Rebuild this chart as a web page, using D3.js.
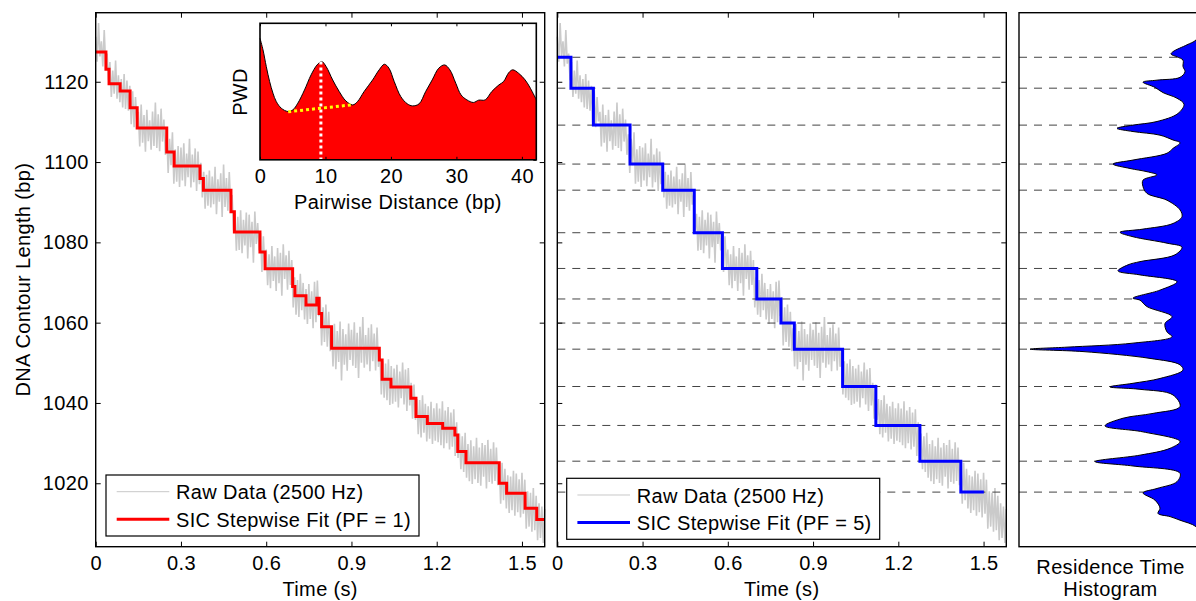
<!DOCTYPE html>
<html>
<head>
<meta charset="utf-8">
<script src="https://cdnjs.cloudflare.com/ajax/libs/d3/7.8.5/d3.min.js"></script>
<style>
body { margin: 0; background: #fff; }
svg { display: block; font-family: "Liberation Sans", Arial, sans-serif; }
svg text { letter-spacing: 0.35px; }
</style>
</head>
<body>
<svg width="1196" height="601"></svg>
<script>
// ---- data ----
// raw trace, one point every 5 ms (bp)
const rawDt = 0.005;
const rawData = [
  1131.2, 1125.0, 1134.6, 1126.3, 1130.1, 1123.8, 1132.9, 1124.5, 1127.0, 1120.4, 1124.9, 1116.2, 1122.8, 1117.0, 1125.3, 1115.8, 1121.6, 1114.9, 1120.7, 1113.6,
  1121.9, 1113.2, 1120.3, 1112.8, 1119.0, 1109.4, 1117.6, 1108.7, 1116.2, 1110.1, 1112.5, 1103.9, 1114.3, 1104.8, 1111.7, 1102.6, 1113.0, 1105.2, 1110.4, 1103.1,
  1112.6, 1104.0, 1114.8, 1103.5, 1111.9, 1102.7, 1113.3, 1105.1, 1110.6, 1101.8, 1106.9, 1097.3, 1105.8, 1099.2, 1107.4, 1094.6, 1103.2, 1095.1, 1104.0, 1093.8,
  1103.6, 1095.4, 1104.7, 1094.0, 1102.1, 1096.2, 1105.8, 1093.7, 1101.9, 1095.0, 1103.4, 1092.8, 1102.6, 1094.5, 1099.8, 1091.2, 1097.6, 1088.4, 1096.8, 1089.1,
  1097.9, 1088.7, 1096.4, 1089.5, 1098.8, 1087.0, 1095.7, 1090.1, 1097.2, 1086.3, 1099.4, 1088.8, 1096.0, 1087.9, 1097.5, 1089.4, 1091.8, 1083.0, 1087.1, 1077.9,
  1086.4, 1078.1, 1088.0, 1077.3, 1085.6, 1079.2, 1087.4, 1076.0, 1086.9, 1078.8, 1085.1, 1074.9, 1087.7, 1079.6, 1084.8, 1078.0, 1082.3, 1072.6, 1081.5, 1073.9,
  1078.2, 1069.3, 1077.0, 1068.6, 1079.1, 1070.4, 1076.5, 1067.9, 1078.6, 1069.8, 1077.4, 1066.7, 1079.5, 1070.9, 1076.8, 1068.2, 1077.9, 1069.4, 1075.6, 1063.8,
  1071.3, 1062.0, 1070.6, 1061.4, 1072.2, 1063.1, 1069.9, 1060.8, 1068.4, 1059.7, 1069.6, 1060.9, 1067.8, 1058.6, 1070.2, 1060.1, 1070.5, 1061.6, 1066.4, 1054.3,
  1063.8, 1055.2, 1064.5, 1054.0, 1062.7, 1052.9, 1058.6, 1049.1, 1059.7, 1048.4, 1057.9, 1050.2, 1060.3, 1045.6, 1058.4, 1049.5, 1057.1, 1048.0, 1059.8, 1050.7,
  1058.2, 1049.3, 1060.1, 1048.7, 1057.5, 1046.2, 1059.0, 1050.0, 1061.4, 1048.8, 1056.9, 1049.6, 1058.7, 1047.9, 1059.6, 1050.4, 1057.3, 1048.1, 1058.8, 1049.0,
  1053.2, 1042.1, 1050.4, 1041.3, 1049.8, 1040.7, 1050.9, 1039.5, 1049.2, 1039.8, 1048.6, 1040.3, 1049.5, 1038.9, 1047.8, 1041.2, 1050.1, 1039.6, 1048.3, 1038.0,
  1048.7, 1039.4, 1045.0, 1036.1, 1044.6, 1035.8, 1041.0, 1032.2, 1040.7, 1031.4, 1041.9, 1032.6, 1039.8, 1030.4, 1039.2, 1031.1, 1040.3, 1029.8, 1038.7, 1030.6,
  1039.9, 1030.2, 1038.6, 1029.5, 1040.4, 1028.7, 1038.1, 1030.0, 1039.0, 1028.4, 1037.6, 1029.1, 1038.4, 1026.8, 1035.2, 1026.3, 1032.4, 1023.5, 1031.7, 1022.8,
  1032.6, 1021.4, 1029.8, 1020.5, 1030.7, 1019.8, 1029.2, 1021.0, 1031.3, 1020.1, 1028.9, 1019.4, 1030.0, 1021.6, 1029.5, 1018.7, 1030.8, 1020.3, 1028.6, 1019.9,
  1030.2, 1020.6, 1028.9, 1019.5, 1024.7, 1014.9, 1025.1, 1015.8, 1023.6, 1013.7, 1022.0, 1012.6, 1021.7, 1013.3, 1023.1, 1011.9, 1022.4, 1012.8, 1021.0, 1011.5,
  1022.6, 1012.4, 1020.9, 1008.7, 1018.0, 1009.2, 1017.6, 1007.9, 1018.8, 1008.3, 1016.9, 1005.8, 1015.0, 1006.4, 1014.2, 1005.1, 1013.6
];

// SIC stepwise fit, PF = 1 (step start times in s, dwell levels in bp)
const redStart = [0, 0.036, 0.047, 0.086, 0.121, 0.146, 0.250, 0.276, 0.367, 0.379, 0.476, 0.488, 0.578, 0.596, 0.693, 0.701, 0.740, 0.778,
  0.786, 0.795, 0.830, 0.998, 1.008, 1.039, 1.109, 1.127, 1.167, 1.221, 1.264, 1.274, 1.303, 1.420, 1.446, 1.511, 1.552];
const redLevels = [1127.4, 1123.1, 1119.5, 1117.7, 1113.5, 1108.5, 1102.5, 1099.0, 1095.9, 1093.0, 1087.6, 1082.6, 1077.6, 1073.4, 1069.0, 1066.7, 1064.4, 1066.1,
  1062.3, 1059.0, 1053.6, 1050.7, 1045.9, 1044.0, 1041.2, 1036.6, 1034.9, 1033.7, 1032.0, 1027.9, 1025.1, 1020.0, 1017.5, 1013.8, 1011.0];
const redEnd = 1.58;

// SIC stepwise fit, PF = 5
const blueStart = [0, 0.048, 0.127, 0.256, 0.371, 0.482, 0.581, 0.702, 0.787, 0.834, 1.004, 1.121, 1.276, 1.420];
const blueLevels = [1126.1, 1118.4, 1109.2, 1099.5, 1093.0, 1082.4, 1073.5, 1065.9, 1059.9, 1053.4, 1044.1, 1034.4, 1025.5, 1017.8];
const blueEnd = 1.501;

// residence time histogram (bp, counts in arbitrary units)
const histBp = [1133.0, 1130.4, 1129.2, 1127.5, 1126.9, 1126.2, 1125.4, 1123.8, 1122.5, 1121.1, 1120.4, 1119.9, 1118.6, 1117.3, 1115.9, 1114.4,
  1112.1, 1110.1, 1109.2, 1108.4, 1107.6, 1106.7, 1105.5, 1104.8, 1103.4, 1102.2, 1100.5, 1099.5, 1098.4, 1097.6, 1096.8, 1095.5, 1093.9,
  1092.2, 1090.5, 1088.1, 1086.4, 1084.7, 1083.3, 1082.5, 1081.4, 1079.8, 1078.8, 1076.9, 1075.2, 1074.4, 1072.9, 1071.9, 1070.2, 1068.1,
  1066.1, 1065.6, 1064.0, 1061.5, 1059.8, 1057.7, 1056.5, 1054.9, 1053.9, 1053.4, 1052.8, 1051.1, 1049.5, 1048.2, 1046.1, 1044.9, 1044.0,
  1043.4, 1042.0, 1039.1, 1037.4, 1036.2, 1034.3, 1032.8, 1030.4, 1028.7, 1027.0, 1025.4, 1024.3, 1022.5, 1020.4, 1018.7, 1017.6, 1015.8,
  1013.8, 1012.5, 1011.7, 1010.8, 1009.2, 1007.0];
const histCount = [0, 6, 15, 29, 31, 25, 19, 19, 17, 22, 45, 59, 47, 39, 25, 18,
  24, 45, 69, 85, 69, 42, 29, 22, 29, 35, 69, 89, 72, 55, 45, 59, 59,
  55, 35, 22, 20, 29, 59, 82, 69, 35, 20, 27, 62, 74, 84, 62, 25, 42,
  69, 62, 55, 30, 37, 35, 30, 69, 135, 172, 119, 52, 22, 19, 42, 69, 92,
  62, 29, 22, 49, 79, 97, 59, 22, 32, 62, 107, 69, 22, 25, 45, 59, 47,
  42, 44, 32, 22, 6, 0];

// pairwise distance distribution (inset)
const pwdDist = [0, 0.46, 0.96, 1.47, 1.98, 2.48, 3.25, 4.26, 5.02, 5.78, 6.8, 7.8, 8.72, 9.43, 10.1, 11.1, 12.1, 13.1, 14.15, 14.9,
  15.9, 17.2, 18.2, 19.0, 19.7, 20.5, 21.5, 22.5, 23.3, 24.3, 25.3, 26.3, 27.3, 28.2, 29.0, 29.9, 30.7, 31.6, 32.6, 33.4,
  34.4, 35.4, 36.5, 37.2, 38.0, 38.6, 39.5, 40.5, 41.3, 42.2];
const pwdValue = [0.890, 0.805, 0.683, 0.573, 0.488, 0.427, 0.378, 0.354, 0.366, 0.415, 0.512, 0.622, 0.695, 0.720, 0.683, 0.585, 0.500, 0.432, 0.402, 0.427,
  0.500, 0.585, 0.659, 0.700, 0.671, 0.573, 0.463, 0.410, 0.395, 0.410, 0.500, 0.585, 0.671, 0.695, 0.659, 0.561, 0.476, 0.439, 0.420, 0.437,
  0.439, 0.500, 0.549, 0.573, 0.639, 0.659, 0.634, 0.585, 0.524, 0.440];
const pwdPeakDist = 9.3, pwdPeakValue = 0.72;
const pwdBaseDist = [4.3, 14.3], pwdBaseValue = [0.352, 0.404];

const timeTicks = [0, 0.3, 0.6, 0.9, 1.2, 1.5];
const bpTicks = [1020, 1040, 1060, 1080, 1100, 1120];
const pwdTicks = [0, 10, 20, 30, 40];

// ---- layout ----
const svg = d3.select("svg");
const plotTop = 12.7, plotBottom = 546.7;
const fontSize = 20;

const y = d3.scaleLinear().domain([1004.2, 1137.2]).range([plotBottom, plotTop]);
const xLeft = d3.scaleLinear().domain([0, 1.58]).range([95.7, 544.7]);
const xMid = d3.scaleLinear().domain([0, 1.58]).range([557.3, 1006.3]);
const hx = d3.scaleLinear().domain([0, 183]).range([1202, 1019]);

const raw = rawData.map((v, i) => [i * rawDt, v]);

function steps(starts, levels, end) {
  const pts = starts.map((t, i) => [t, levels[i]]);
  pts.push([end, levels[levels.length - 1]]);
  return pts;
}

function styleAxis(g) {
  g.attr("font-size", fontSize).attr("font-family", null);
  g.select(".domain").remove();
  g.selectAll(".tick line").attr("stroke", "#000");
}

function frame(x, yLabels) {
  const [x0, x1] = x.range();
  svg.append("g").attr("transform", `translate(0,${plotBottom})`)
    .call(d3.axisBottom(x).tickValues(timeTicks).tickSize(-5).tickPadding(9).tickFormat(d => String(d)))
    .call(styleAxis);
  svg.append("g").attr("transform", `translate(0,${plotTop})`)
    .call(d3.axisTop(x).tickValues(timeTicks).tickSize(-5).tickFormat(""))
    .call(styleAxis);
  svg.append("g").attr("transform", `translate(${x0},0)`)
    .call(d3.axisLeft(y).tickValues(bpTicks).tickSize(-5).tickPadding(7).tickFormat(yLabels ? d => d : ""))
    .call(styleAxis);
  svg.append("g").attr("transform", `translate(${x1},0)`)
    .call(d3.axisRight(y).tickValues(bpTicks).tickSize(-5).tickFormat(""))
    .call(styleAxis);
  svg.append("rect")
    .attr("x", x0).attr("y", plotTop).attr("width", x1 - x0).attr("height", plotBottom - plotTop)
    .attr("fill", "none").attr("stroke", "#000").attr("stroke-width", 1.4);
  svg.append("text")
    .attr("x", (x0 + x1) / 2).attr("y", 596)
    .attr("text-anchor", "middle").attr("font-size", fontSize)
    .text("Time (s)");
}

function legend(x, yTop, color, label) {
  const g = svg.append("g").attr("transform", `translate(${x},${yTop})`);
  g.append("rect").attr("width", 313).attr("height", 61)
    .attr("fill", "#fff").attr("stroke", "#000").attr("stroke-width", 1.2);
  g.append("line").attr("x1", 10.7).attr("x2", 63.3).attr("y1", 16.7).attr("y2", 16.7)
    .attr("stroke", "#c8c8c8").attr("stroke-width", 1);
  g.append("line").attr("x1", 10.7).attr("x2", 63.3).attr("y1", 44.3).attr("y2", 44.3)
    .attr("stroke", color).attr("stroke-width", 3);
  g.append("text").attr("x", 70).attr("y", 24.3).attr("font-size", fontSize).text("Raw Data (2500 Hz)");
  g.append("text").attr("x", 70).attr("y", 51.7).attr("font-size", fontSize).text(label);
}

const rawLine = x => d3.line().x(d => x(d[0])).y(d => y(d[1]));
const stepLine = x => d3.line().curve(d3.curveStepAfter).x(d => x(d[0])).y(d => y(d[1]));

// ---- left panel ----
svg.append("path").datum(raw).attr("d", rawLine(xLeft))
  .attr("fill", "none").attr("stroke", "#cacaca").attr("stroke-width", 1.6);
svg.append("path").datum(steps(redStart, redLevels, redEnd)).attr("d", stepLine(xLeft))
  .attr("fill", "none").attr("stroke", "#ff0000").attr("stroke-width", 3);
frame(xLeft, true);
legend(106, 475, "#ff0000", "SIC Stepwise Fit (PF = 1)");

svg.append("text")
  .attr("transform", `translate(30,${(plotTop + plotBottom) / 2}) rotate(-90)`)
  .attr("text-anchor", "middle").attr("font-size", fontSize)
  .text("DNA Contour Length (bp)");

// inset: pairwise distance distribution
const ix = d3.scaleLinear().domain([0, 42.2]).range([260, 536.3]);
const iy = d3.scaleLinear().domain([0, 1]).range([159.8, 23.3]);
const pwd = pwdDist.map((d, i) => [d, pwdValue[i]]);

svg.append("rect").attr("x", 260).attr("y", 23.3).attr("width", 276.3).attr("height", 136.5).attr("fill", "#fff");
svg.append("path").datum(pwd)
  .attr("d", d3.area().curve(d3.curveCatmullRom).x(d => ix(d[0])).y0(iy(0)).y1(d => iy(d[1])))
  .attr("fill", "#ff0000");
svg.append("path").datum(pwd)
  .attr("d", d3.line().curve(d3.curveCatmullRom).x(d => ix(d[0])).y(d => iy(d[1])))
  .attr("fill", "none").attr("stroke", "#000").attr("stroke-width", 1);
svg.append("line")
  .attr("x1", ix(pwdPeakDist)).attr("x2", ix(pwdPeakDist)).attr("y1", iy(pwdPeakValue)).attr("y2", iy(0))
  .attr("stroke", "#fff").attr("stroke-width", 3).attr("stroke-dasharray", "3,3");
svg.append("line")
  .attr("x1", ix(pwdBaseDist[0])).attr("x2", ix(pwdBaseDist[1]))
  .attr("y1", iy(pwdBaseValue[0])).attr("y2", iy(pwdBaseValue[1]))
  .attr("stroke", "#ffff00").attr("stroke-width", 3).attr("stroke-dasharray", "3,3");

svg.append("g").attr("transform", `translate(0,${iy(0)})`)
  .call(d3.axisBottom(ix).tickValues(pwdTicks).tickSize(-3).tickPadding(9).tickFormat(d => d))
  .call(styleAxis);
svg.append("g").attr("transform", `translate(0,${iy(1)})`)
  .call(d3.axisTop(ix).tickValues(pwdTicks).tickSize(-3).tickFormat(""))
  .call(styleAxis);
svg.append("g").attr("transform", `translate(${ix(42.2)},0)`)
  .call(d3.axisRight(iy).tickValues([0, 0.58]).tickSize(-3).tickFormat(""))
  .call(styleAxis);
svg.append("rect").attr("x", 260).attr("y", 23.3).attr("width", 276.3).attr("height", 136.5)
  .attr("fill", "none").attr("stroke", "#000").attr("stroke-width", 1.6);
svg.append("text").attr("x", 398).attr("y", 209)
  .attr("text-anchor", "middle").attr("font-size", fontSize).text("Pairwise Distance (bp)");
svg.append("text").attr("transform", "translate(246.5,92) rotate(-90)")
  .attr("text-anchor", "middle").attr("font-size", fontSize).text("PWD");

// ---- middle panel ----
svg.append("path").datum(raw).attr("d", rawLine(xMid))
  .attr("fill", "none").attr("stroke", "#cacaca").attr("stroke-width", 1.6);
svg.append("g").selectAll("line").data(blueLevels).join("line")
  .attr("x1", xMid.range()[0]).attr("x2", xMid.range()[1])
  .attr("y1", d => y(d)).attr("y2", d => y(d))
  .attr("stroke", "#444").attr("stroke-width", 1).attr("stroke-dasharray", "8,7");
svg.append("path").datum(steps(blueStart, blueLevels, blueEnd)).attr("d", stepLine(xMid))
  .attr("fill", "none").attr("stroke", "#0000ff").attr("stroke-width", 3);
frame(xMid, false);
legend(566.7, 478.3, "#0000ff", "SIC Stepwise Fit (PF = 5)");

// ---- residence time histogram ----
svg.append("defs").append("clipPath").attr("id", "hclip")
  .append("rect").attr("x", 1019).attr("y", plotTop).attr("width", 183).attr("height", plotBottom - plotTop);
const hg = svg.append("g").attr("clip-path", "url(#hclip)");
hg.selectAll("line").data(blueLevels).join("line")
  .attr("x1", 1019).attr("x2", 1202)
  .attr("y1", d => y(d)).attr("y2", d => y(d))
  .attr("stroke", "#444").attr("stroke-width", 1).attr("stroke-dasharray", "8,7");
const hist = histBp.map((b, i) => [b, histCount[i]]);
hg.append("path").datum(hist)
  .attr("d", d3.area().curve(d3.curveCatmullRom).y(d => y(d[0])).x0(hx(0)).x1(d => hx(d[1])))
  .attr("fill", "#0000ff");
hg.append("path").datum(hist)
  .attr("d", d3.line().curve(d3.curveCatmullRom).y(d => y(d[0])).x(d => hx(d[1])))
  .attr("fill", "none").attr("stroke", "#000").attr("stroke-width", 1);
svg.append("rect").attr("x", 1019).attr("y", plotTop).attr("width", 183).attr("height", plotBottom - plotTop)
  .attr("fill", "none").attr("stroke", "#000").attr("stroke-width", 1.4);
svg.append("text").attr("x", 1110.5).attr("y", 574)
  .attr("text-anchor", "middle").attr("font-size", fontSize).text("Residence Time");
svg.append("text").attr("x", 1110.5).attr("y", 595.5)
  .attr("text-anchor", "middle").attr("font-size", fontSize).text("Histogram");
</script>
</body>
</html>
